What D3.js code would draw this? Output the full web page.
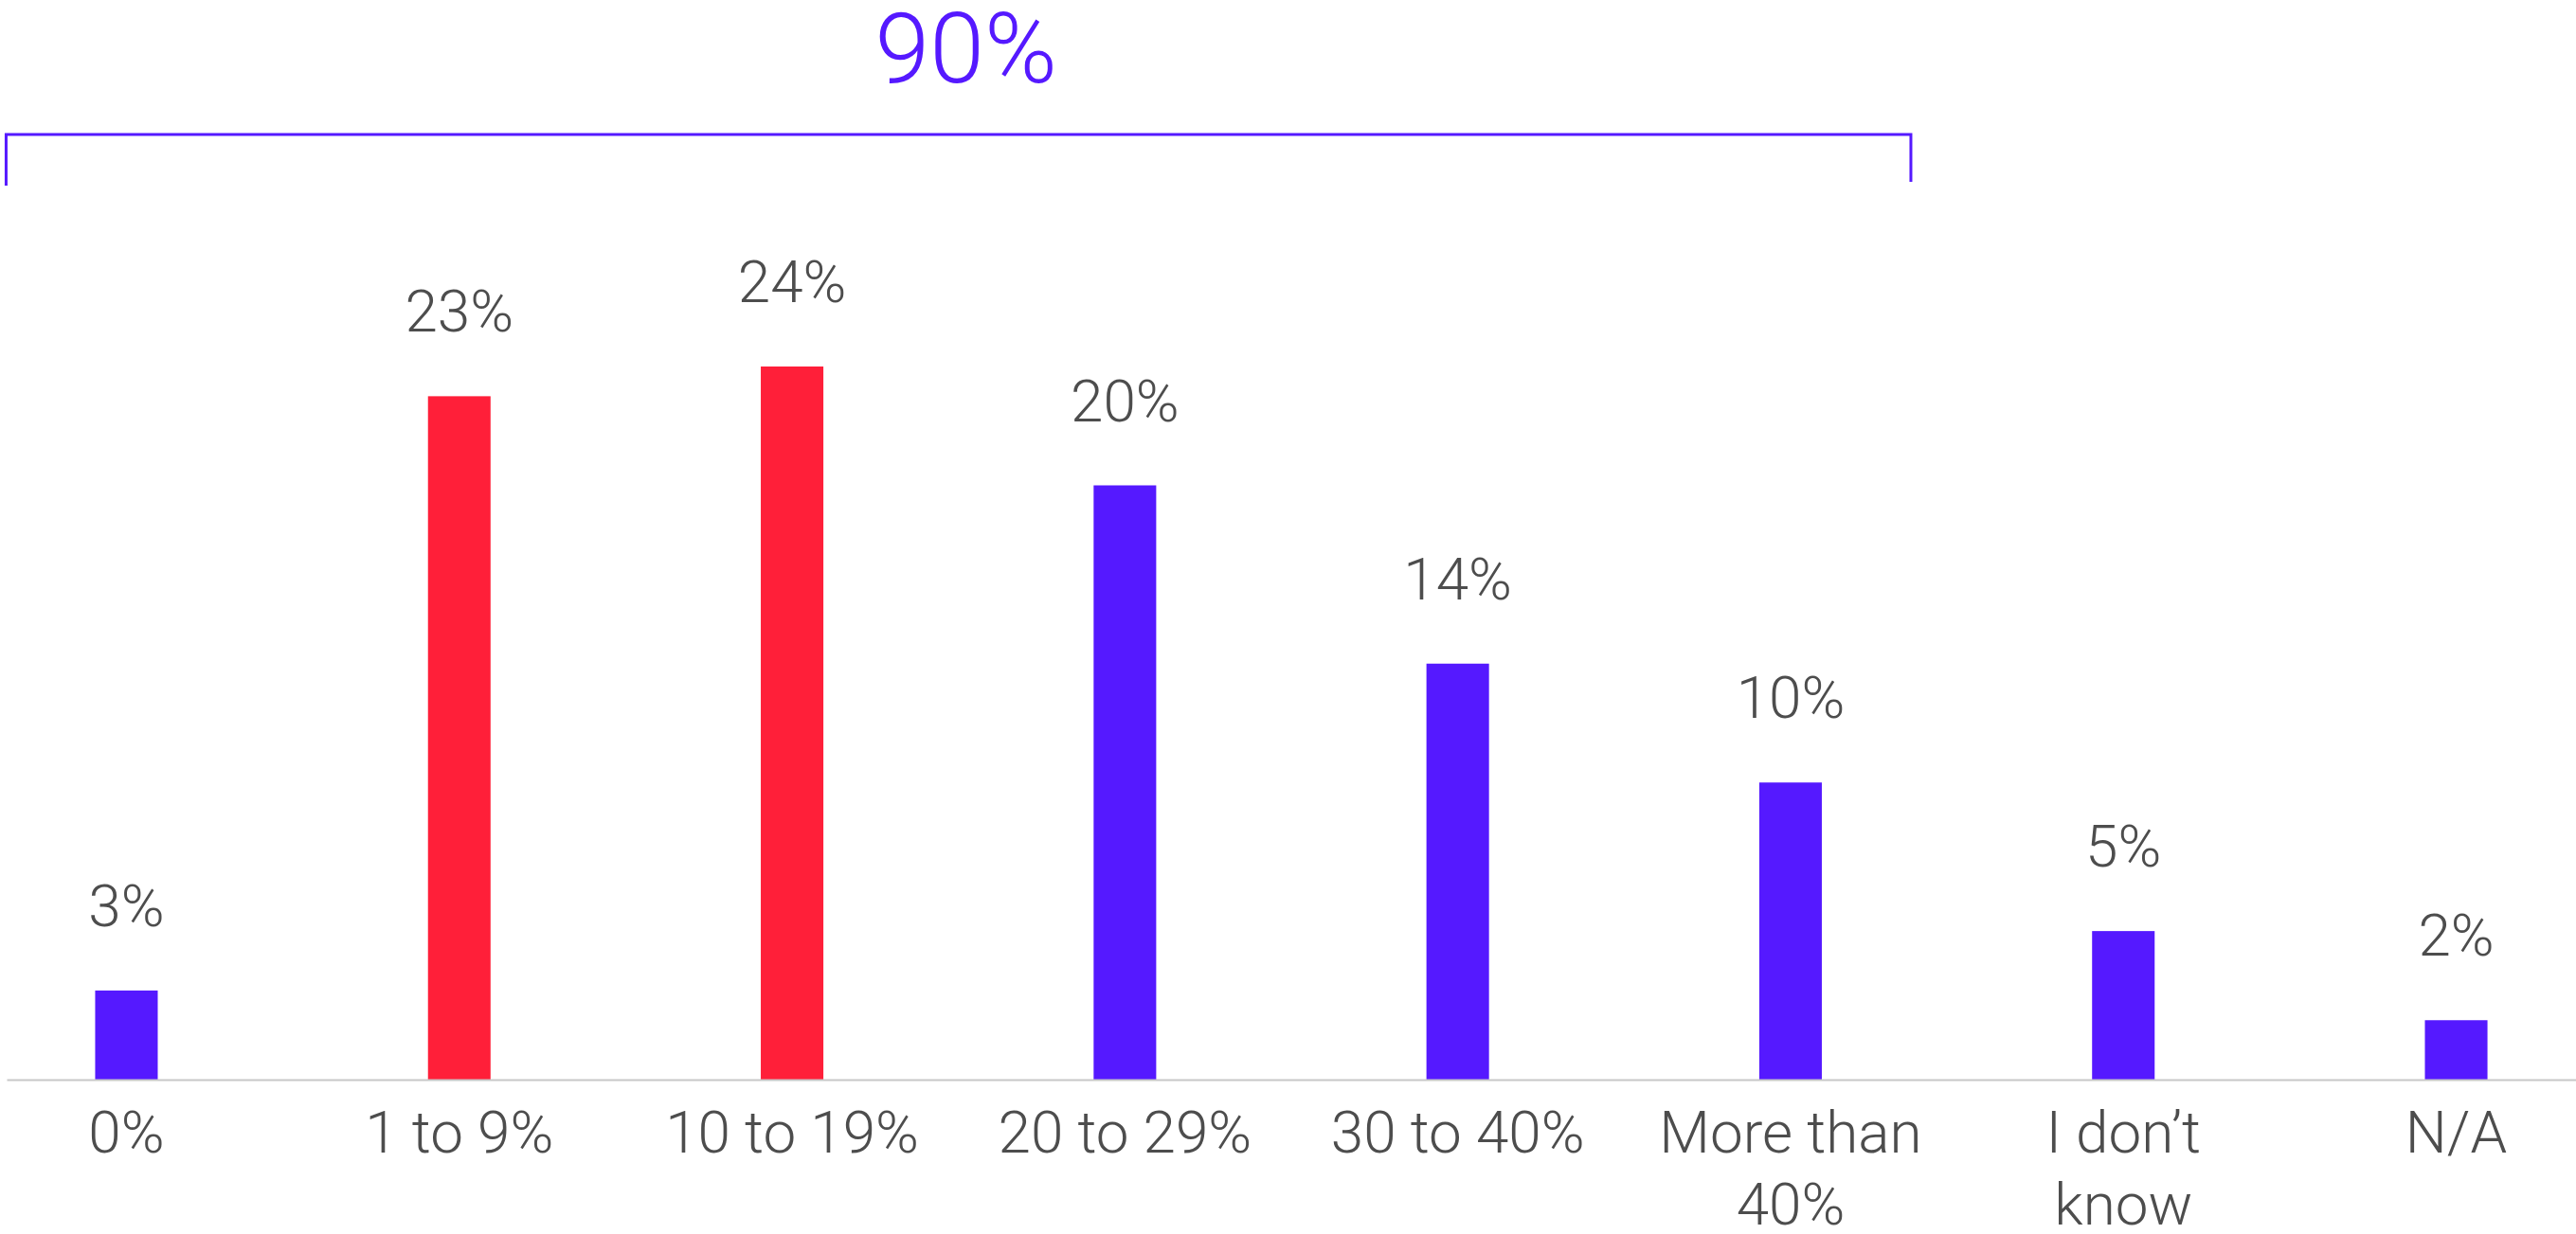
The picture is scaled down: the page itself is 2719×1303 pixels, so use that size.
<!DOCTYPE html>
<html>
<head>
<meta charset="utf-8">
<script src="https://cdn.jsdelivr.net/npm/d3@7"></script>
<style>
	body { margin: 0; background: #fff; }
	svg { display: block; }
</style>
</head>
<body>
<div id="plot"></div>
<script>
// chart data
var categories = ["0%", "1 to 9%", "10 to 19%", "20 to 29%", "30 to 40%", "More than 40%", "I don’t know", "N/A"];
var values = [3, 23, 24, 20, 14, 10, 5, 2];
var valueLabels = ["3%", "23%", "24%", "20%", "14%", "10%", "5%", "2%"];
var tickLines = [["0%"], ["1 to 9%"], ["10 to 19%"], ["20 to 29%"], ["30 to 40%"], ["More than", "40%"], ["I don’t", "know"], ["N/A"]];
var redCategories = ["1 to 9%", "10 to 19%"];
var bracketFrom = "0%";
var bracketTo = "More than 40%";
var bracketLabel = "90%";

var w = 2719;
var h = 1303;
var baseY = 1140;
var purple = "#5519ff";
var red = "#ff1f39";
var textColor = "#4d4d4d";
var font = "Roboto, 'Open Sans', sans-serif";

var xScale = d3.scaleBand()
	.domain(categories)
	.range([7, w])
	.paddingInner(0.812)
	.paddingOuter(0.266);

var yScale = d3.scaleLinear()
	.domain([0, 24])
	.range([baseY, 387]);

var svg = d3.select("#plot").append("svg")
	.attr("width", w)
	.attr("height", h);

// bars
svg.selectAll(".bar")
	.data(values)
	.enter()
	.append("rect")
	.attr("class", "bar")
	.attr("x", function(d, i) { return xScale(categories[i]); })
	.attr("y", function(d) { return yScale(d); })
	.attr("width", xScale.bandwidth())
	.attr("height", function(d) { return baseY - yScale(d); })
	.attr("fill", function(d, i) {
		return redCategories.indexOf(categories[i]) >= 0 ? red : purple;
	});

// value labels
svg.selectAll(".val")
	.data(values)
	.enter()
	.append("text")
	.attr("class", "val")
	.attr("x", function(d, i) { return xScale(categories[i]) + xScale.bandwidth() / 2; })
	.attr("y", function(d) { return yScale(d) - 68; })
	.attr("text-anchor", "middle")
	.attr("font-family", font)
	.attr("font-weight", 300)
	.attr("font-size", 62)
	.attr("fill", textColor)
	.text(function(d, i) { return valueLabels[i]; });

// x axis
var xAxis = d3.axisBottom(xScale)
	.tickSize(0)
	.tickSizeOuter(0);

var gx = svg.append("g")
	.attr("transform", "translate(0," + baseY + ")")
	.call(xAxis);

gx.select(".domain")
	.attr("stroke", "#c8c8c8")
	.attr("stroke-width", 2);

gx.selectAll(".tick text")
	.attr("font-family", font)
	.attr("font-weight", 300)
	.attr("font-size", 62)
	.attr("fill", textColor)
	.attr("dy", null)
	.attr("y", 77)
	.text(null)
	.each(function(d) {
		var lines = tickLines[categories.indexOf(d)];
		var t = d3.select(this);
		lines.forEach(function(line, k) {
			t.append("tspan")
				.attr("x", 0)
				.attr("dy", k == 0 ? 0 : 76)
				.text(line);
		});
	});

// bracket over the first categories
var pad = 94;
var bx1 = xScale(bracketFrom) - pad;
var bx2 = xScale(bracketTo) + xScale.bandwidth() + pad;
var by = 142;

svg.append("path")
	.attr("d", "M" + bx1 + "," + (by + 54) + "V" + by + "H" + bx2 + "V" + (by + 50))
	.attr("fill", "none")
	.attr("stroke", purple)
	.attr("stroke-width", 3);

svg.append("text")
	.attr("x", (bx1 + bx2) / 2 + 8)
	.attr("y", 87)
	.attr("text-anchor", "middle")
	.attr("font-family", font)
	.attr("font-weight", 300)
	.attr("font-size", 104)
	.attr("fill", purple)
	.text(bracketLabel);
</script>
</body>
</html>
